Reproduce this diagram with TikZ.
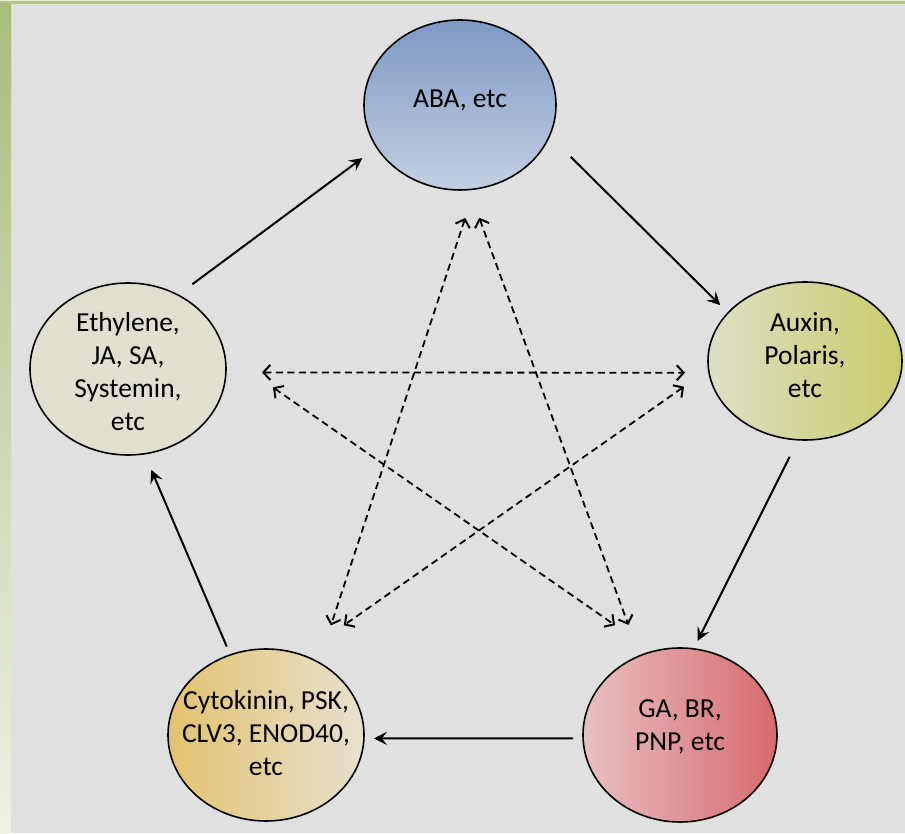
\documentclass[tikz,border=0pt]{standalone}
\usepackage{fontspec}
\setmainfont{Carlito}
\usetikzlibrary{shapes.geometric,arrows.meta}
\definecolor{bg}{HTML}{E0E0E0}
\definecolor{stripTop}{HTML}{A9BD7B}
\definecolor{stripBot}{HTML}{EEF1E6}
\definecolor{topbar}{HTML}{B4C48C}
\definecolor{topline}{HTML}{E8ECD9}
\definecolor{abaTop}{HTML}{7D99C4}
\definecolor{abaBot}{HTML}{C4CFE2}
\definecolor{auxL}{HTML}{DDDFC6}
\definecolor{auxR}{HTML}{C9CC6A}
\definecolor{ethF}{HTML}{E1E0D0}
\definecolor{cytL}{HTML}{E4C36F}
\definecolor{cytR}{HTML}{E6E0CF}
\definecolor{gaL}{HTML}{E7C0C3}
\definecolor{gaR}{HTML}{D86A6D}
\tikzset{
  blob/.style={ellipse, draw=black, line width=1.6pt, inner sep=0pt, outer sep=0pt},
  txt/.style={align=center, font=\fontsize{27.5}{33}\selectfont, inner sep=0pt},
  solidarrow/.style={line width=2pt, -{Stealth[length=13pt,width=13pt,inset=5pt]}},
  dasharrow/.style={line width=1.8pt, dash pattern=on 7pt off 4.5pt,
    {Straight Barb[length=7pt,width=15pt,line width=2pt]}-{Straight Barb[length=7pt,width=15pt,line width=2pt]}}
}
\begin{document}
\begin{tikzpicture}[x=1pt,y=1pt]
\useasboundingbox (0,0) rectangle (905,833);
\fill[bg] (0,0) rectangle (905,833);
\fill[topbar] (0,829) rectangle (905,832);
\fill[topline] (0,832) rectangle (905,833);
\shade[top color=stripTop, bottom color=stripBot] (0,0) rectangle (11,829);

\node[blob, minimum width=192pt, minimum height=170pt, top color=abaTop, bottom color=abaBot] (aba) at (460,728) {};
\node[blob, minimum width=194pt, minimum height=158pt, left color=auxL, right color=auxR] (aux) at (805,472) {};
\node[blob, minimum width=196pt, minimum height=172pt, fill=ethF] (eth) at (128,464) {};
\node[blob, minimum width=196pt, minimum height=172pt, left color=cytL, right color=cytR] (cyt) at (266,98) {};
\node[blob, minimum width=194pt, minimum height=174pt, left color=gaL, right color=gaR] (ga) at (680,98) {};

\node[txt] (aba-t) at ([yshift=5pt]aba.center) {ABA, etc};
\node[txt] (aux-t) at ([yshift=6pt]aux.center) {Auxin,\\Polaris,\\etc};
\node[txt] (eth-t) at ([yshift=-3pt]eth.center) {Ethylene,\\JA, SA,\\Systemin,\\etc};
\node[txt] (cyt-t) at ([yshift=2pt]cyt.center) {Cytokinin, PSK,\\CLV3, ENOD40,\\etc};
\node[txt] (ga-t) at ([yshift=8pt]ga.center) {GA, BR,\\PNP, etc};

% solid cycle
\draw[solidarrow, shorten <=18pt, shorten >=18pt] (eth.56.4) -- (aba.207.7);
\draw[solidarrow, shorten <=30pt, shorten >=11pt] (aba.-19.8) -- (aux.148.9);
\draw[solidarrow, shorten <=19pt, shorten >=9pt] (aux.265.4) -- (ga.81.4);
\draw[solidarrow, shorten <=10pt, shorten >=10pt] (ga.182.96) -- (cyt.-2.93);
\draw[solidarrow, shorten <=9pt, shorten >=17.5pt] (cyt.114.5) -- (eth.-79.9);

% dashed star
\draw[dasharrow, shorten <=36pt, shorten >=24pt] (eth.-2.93) -- (aux.187.7);
\draw[dasharrow, shorten <=30.5pt, shorten >=39pt] (aba.-80.2) -- (cyt.54.7);
\draw[dasharrow, shorten <=30pt, shorten >=33pt] (aba.-84.2) -- (ga.117.2);
\draw[dasharrow, shorten <=59pt, shorten >=46pt] (eth.9.4) -- (ga.108);
\draw[dasharrow, shorten <=30pt, shorten >=51.5pt] (aux.185.8) -- (cyt.66.7);
\end{tikzpicture}
\end{document}
